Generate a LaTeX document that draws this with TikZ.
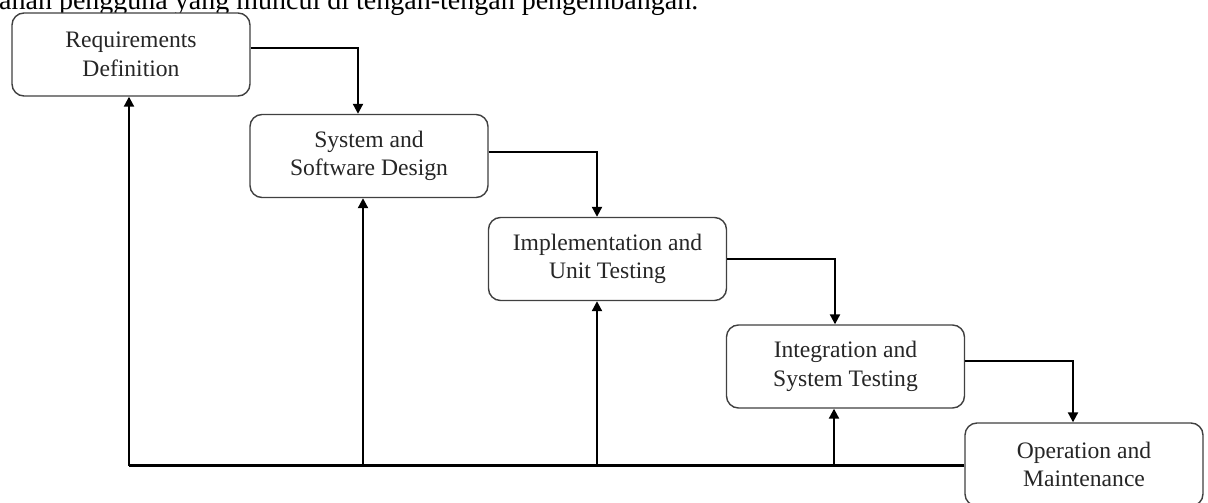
\documentclass[tikz,border=0pt]{standalone}
\usepackage{fontspec}
\setmainfont{Liberation Serif}
\usetikzlibrary{arrows.meta}
\begin{document}
\begin{tikzpicture}[x=1pt,y=-1pt,
  stage/.style={draw=black!75, line width=1.4pt, rounded corners=12pt, fill=white,
    minimum width=238pt, minimum height=83pt, align=center, inner sep=0pt,
    text=black!85, font=\fontsize{23.6}{28.5}\selectfont},
  flow/.style={draw=black, line width=2.1pt, -{Triangle[length=10pt,width=10pt]}},
  base/.style={draw=black, line width=2.4pt}]
\useasboundingbox (0,0) rectangle (1208,503);
\clip (0,0) rectangle (1208,503);
\node[anchor=base west, inner sep=0pt, font=\fontsize{28}{30}\selectfont] (head) at (-1,10)
  {ahan pengguna yang muncul di tengah-tengah pengembangan.};
\node[stage] (b1) at (131,54.5) {Requirements\\Definition};
\node[stage] (b2) at (369,156) {System and\\Software Design};
\node[stage] (b3) at (607.5,259) {Implementation and\\Unit Testing};
\node[stage] (b4) at (845.5,366.5) {Integration and\\System Testing};
\node[stage] (b5) at (1084,464.5) {Operation and\\Maintenance};
\coordinate (bl) at (0,465.5);
% forward flow
\draw[flow] ([yshift=6.5pt]b1.east) -| ([xshift=-11pt]b2.north);
\draw[flow] ([yshift=4pt]b2.east) -| ([xshift=-10.5pt]b3.north);
\draw[flow] (b3.east) -| ([xshift=-10.5pt]b4.north);
\draw[flow] ([yshift=5.5pt]b4.east) -| ([xshift=-11pt]b5.north);
% feedback
\draw[base] (b5.west |- bl) -- ([xshift=-2pt]b1.south |- bl);
\draw[flow] ([xshift=-2pt]b1.south |- bl) -- ([xshift=-2pt]b1.south);
\draw[flow] ([xshift=-6pt]b2.south |- bl) -- ([xshift=-6pt]b2.south);
\draw[flow] ([xshift=-10.5pt]b3.south |- bl) -- ([xshift=-10.5pt]b3.south);
\draw[flow] ([xshift=-11.5pt]b4.south |- bl) -- ([xshift=-11.5pt]b4.south);
\end{tikzpicture}
\end{document}
